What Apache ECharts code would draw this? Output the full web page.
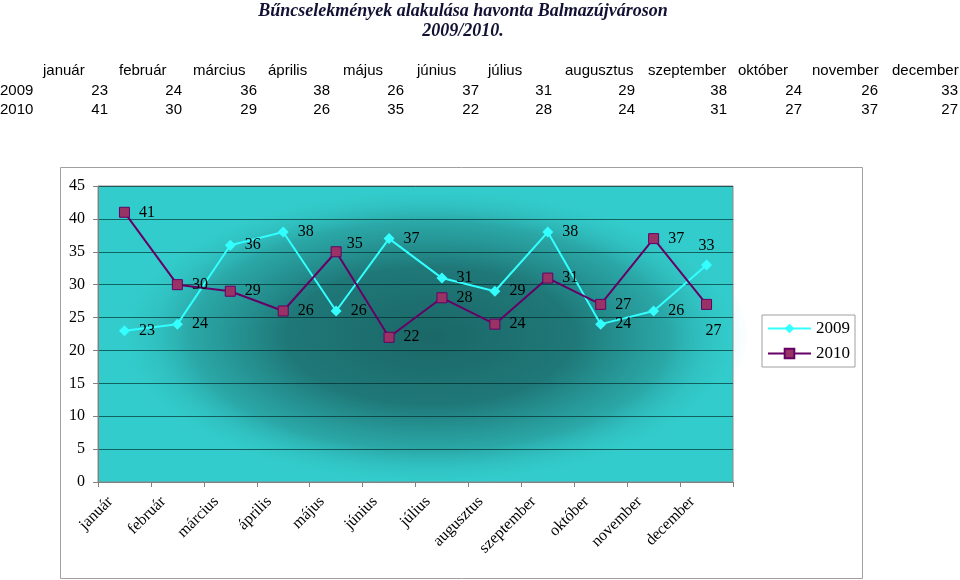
<!DOCTYPE html>
<html>
<head>
<meta charset="utf-8">
<script src="https://cdn.jsdelivr.net/npm/echarts@6/dist/echarts.min.js"></script>
<style>
html,body{margin:0;padding:0;background:#fff;}
#chart{width:960px;height:580px;}
</style>
</head>
<body>
<div id="chart"></div>
<script>
// ---- data ----
const months = ['január','február','március','április','május','június','július','augusztus','szeptember','október','november','december'];
const seriesNames = ['2009','2010'];
const values2009 = [23,24,36,38,26,37,31,29,38,24,26,33];
const values2010 = [41,30,29,26,35,22,28,24,31,27,37,27];
const yTicks = {min:0, max:45, step:5};
const titleLines = ['Bűncselekmények alakulása havonta Balmazújvároson','2009/2010.'];

// ---- layout (table text positions) ----
const headerLeft = [43,119,193,268,343,417,488,565,648,738,812,892];
const valueRight = [108,182,257,330,404,479,552,635,727,802,878,958];
const rowY = [71,91,110];

const chart = echarts.init(document.getElementById('chart'));
const serif = '"Liberation Serif","Times New Roman",serif';
const sans = '"Liberation Sans",Arial,sans-serif';

const graphics = [];
titleLines.forEach((t,i)=>{
  graphics.push({type:'text', x:463, y:11+i*20, style:{text:t, align:'center', verticalAlign:'middle', font:'italic bold 18px '+serif, fill:'#111133'}});
});
months.forEach((m,i)=>{
  graphics.push({type:'text', x:headerLeft[i], y:rowY[0], style:{text:m, align:'left', verticalAlign:'middle', font:'15px '+sans, fill:'#000'}});
});
[values2009, values2010].forEach((arr,r)=>{
  graphics.push({type:'text', x:0, y:rowY[r+1], style:{text:seriesNames[r], align:'left', verticalAlign:'middle', font:'15px '+sans, fill:'#000'}});
  arr.forEach((v,i)=>{
    graphics.push({type:'text', x:valueRight[i], y:rowY[r+1], style:{text:String(v), align:'right', verticalAlign:'middle', font:'15px '+sans, fill:'#000'}});
  });
});
// outer chart frame
graphics.push({type:'rect', z:-30, shape:{x:60.5,y:167.5,width:802,height:411}, style:{fill:'none', stroke:'#a0a0a0', lineWidth:1}});
// elliptical dark shading in the plot background (decorative)
graphics.push({type:'circle', z:-5, zlevel:0, x:430, y:336, scaleX:2.1, shape:{cx:0, cy:0, r:152},
  style:{fill:{type:'radial', x:0.5, y:0.5, r:0.5, colorStops:[
    {offset:0, color:'rgba(20,72,72,0.76)'},
    {offset:0.45, color:'rgba(20,72,72,0.64)'},
    {offset:0.75, color:'rgba(25,90,90,0.32)'},
    {offset:1, color:'rgba(51,204,204,0)'}]}}});

const labelBase = {show:true, position:'right', distance:9, fontFamily:serif, fontSize:16, color:'#000'};

const data2009 = values2009.map((v,i)=>{
  if(i===11) return {value:v, label:{position:'top', distance:6}};
  return v;
});
const data2010 = values2010.map((v,i)=>{
  if(i===11) return {value:v, label:{position:'bottom', distance:13, offset:[7,0]}};
  if(i===4) return {value:v, label:{offset:[-4,-8]}};
  return v;
});

chart.setOption({
  animation:false,
  graphic:graphics,
  grid:{left:98, top:186, right:227, bottom:98, show:true, z:-20, borderColor:'#8a8a8a', borderWidth:1,
    backgroundColor:'#33cccc'},
  legend:{orient:'vertical', left:762, top:315, itemWidth:43, itemHeight:12, itemGap:8,
    padding:[5,5,5,5], borderColor:'#a0a0a0', borderWidth:1, backgroundColor:'#fff',
    textStyle:{fontFamily:serif, fontSize:17, color:'#000'}, data:seriesNames},
  xAxis:{type:'category', data:months, boundaryGap:true, zlevel:1,
    axisLine:{lineStyle:{color:'#808080'}},
    axisTick:{show:true, alignWithLabel:false, lineStyle:{color:'#808080'}},
    axisLabel:{rotate:45, interval:0, margin:3, padding:[0,20,0,0], fontFamily:serif, fontSize:16, color:'#000'}},
  yAxis:{type:'value', min:yTicks.min, max:yTicks.max, interval:yTicks.step, zlevel:1,
    axisLine:{show:true, lineStyle:{color:'#808080'}},
    axisTick:{show:true, length:5, lineStyle:{color:'#808080'}},
    axisLabel:{margin:13, fontFamily:serif, fontSize:16, color:'#000'},
    splitLine:{lineStyle:{color:'rgba(0,32,32,0.62)', width:1}}},
  series:[
    {name:seriesNames[0], type:'line', data:data2009, symbol:'diamond', symbolSize:11, zlevel:1,
      lineStyle:{color:'#33ffff', width:2}, itemStyle:{color:'#33ffff'}, label:labelBase, z:3},
    {name:seriesNames[1], type:'line', data:data2010, symbol:'rect', symbolSize:10, zlevel:1,
      lineStyle:{color:'#660066', width:2}, itemStyle:{color:'#993366', borderColor:'#660066', borderWidth:1}, label:labelBase, z:4}
  ]
});
</script>
</body>
</html>
